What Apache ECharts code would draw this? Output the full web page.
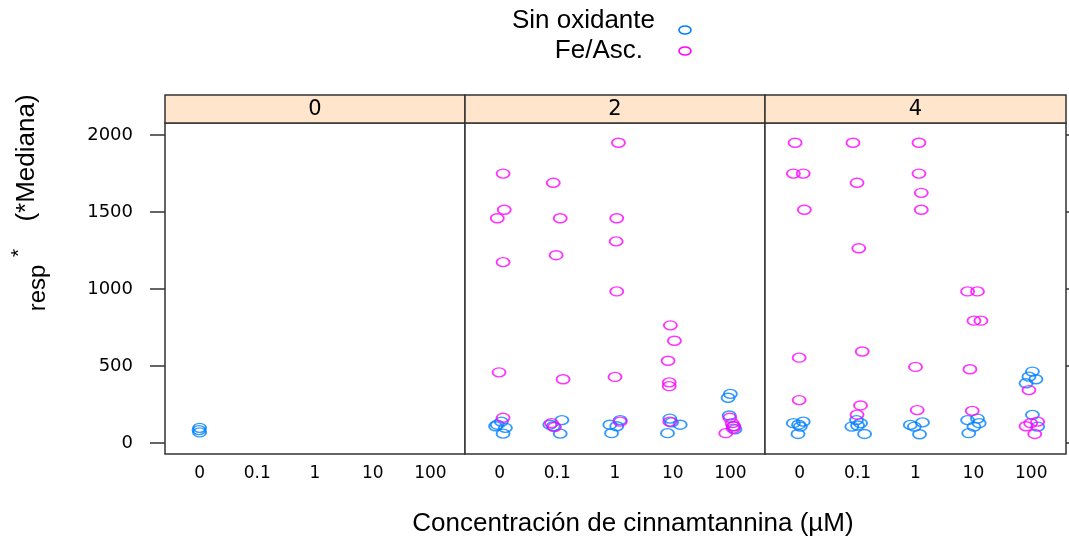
<!DOCTYPE html>
<html>
<head>
<meta charset="utf-8">
<script src="https://cdn.jsdelivr.net/npm/echarts@6/dist/echarts.min.js"></script>
<style>
  html, body { margin: 0; padding: 0; background: #fff; }
  #chart { width: 1069px; height: 543px; }
</style>
</head>
<body>
<div id="chart"></div>
<script>
// Concentration levels on each panel's x axis (jittered points use index 1..5)
const concLabels = ['0', '0.1', '1', '10', '100'];
// Oxidant dose of each panel (strip labels)
const doseLabels = ['0', '2', '4'];
const yTicks = [0, 500, 1000, 1500, 2000];
const seriesNames = ['Sin oxidante', 'Fe/Asc.'];

// Dose 0
const sinOx0 = [[1.00, 100], [0.99, 85], [1.00, 70]];
const feAsc0 = [];

// Dose 2
const sinOx2 = [
  [0.96, 120], [1.03, 140], [1.10, 100], [1.06, 62], [0.93, 110],
  [2.08, 150], [1.87, 120], [2.05, 62], [1.93, 110],
  [2.91, 120], [3.09, 150], [2.94, 65], [3.03, 110],
  [3.95, 160], [4.13, 120], [3.91, 65], [3.98, 135],
  [5.00, 320], [4.96, 295], [4.98, 180], [5.05, 110], [5.08, 90]
];
const feAsc2 = [
  [1.06, 1750], [1.08, 1515], [0.96, 1460], [1.06, 1175], [0.99, 460], [1.06, 165],
  [1.93, 1690], [2.05, 1460], [1.98, 1220], [2.10, 415], [1.90, 130], [1.95, 105],
  [3.06, 1950], [3.03, 1460], [3.02, 1310], [3.03, 985], [3.00, 430], [3.09, 140],
  [3.96, 765], [4.03, 665], [3.92, 535], [3.94, 395], [3.94, 370], [3.95, 140],
  [4.99, 165], [5.03, 130], [5.05, 95], [4.92, 65], [5.06, 110]
];

// Dose 4
const sinOx4 = [
  [0.89, 130], [0.98, 120], [1.06, 140], [0.97, 60], [1.01, 108],
  [1.90, 108], [2.05, 130], [2.12, 60], [2.00, 115], [1.98, 150],
  [2.91, 119], [3.12, 135], [3.07, 58], [2.98, 108],
  [3.90, 150], [4.07, 160], [3.92, 65], [4.01, 108], [4.10, 130],
  [5.02, 465], [4.96, 432], [5.08, 415], [4.91, 389], [5.02, 184], [5.11, 108]
];
const feAsc4 = [
  [0.92, 1950], [0.89, 1750], [1.06, 1750], [1.08, 1515], [0.99, 555], [0.99, 280],
  [1.92, 1950], [1.99, 1690], [2.02, 1265], [2.08, 595], [2.05, 245], [1.99, 185],
  [3.06, 1950], [3.06, 1750], [3.10, 1625], [3.10, 1515], [3.00, 495], [3.03, 215],
  [3.90, 985], [4.07, 985], [4.01, 795], [4.13, 795], [3.94, 480], [3.98, 210],
  [4.96, 345], [4.91, 110], [4.99, 130], [5.11, 140], [5.06, 60]
];

const panelData = [[sinOx0, feAsc0], [sinOx2, feAsc2], [sinOx4, feAsc4]];

const BLUE = '#0080ff';
const MAGENTA = '#ff00ff';
const colors = [BLUE, MAGENTA];
const FRAME = '#333333';
const TICK_FONT = 'DejaVu Sans';

// Panel layout
const panelLeft = [165, 465, 765];
const panelWidth = [300, 300, 301];
const plotTop = 123;
const plotHeight = 331;
const stripTop = 95;
const stripHeight = 28;

const grids = panelLeft.map((l, i) => ({
  left: l, top: plotTop, width: panelWidth[i], height: plotHeight,
  show: true, borderColor: FRAME, borderWidth: 1.5, backgroundColor: '#fff'
}));

const xAxes = panelLeft.map((_, i) => ({
  type: 'value', gridIndex: i, min: 0.4, max: 5.6,
  axisLine: { show: false }, axisTick: { show: false }, splitLine: { show: false },
  axisLabel: {
    customValues: [1, 2, 3, 4, 5],
    formatter: v => concLabels[Math.round(v) - 1],
    fontFamily: TICK_FONT, fontSize: 17, color: '#000', margin: 11
  }
}));

const yAxes = panelLeft.map((_, i) => ({
  type: 'value', gridIndex: i, min: -70, max: 2078,
  axisLine: { show: false }, splitLine: { show: false },
  axisTick: i === 0
    ? { show: true, customValues: yTicks, length: 15, lineStyle: { color: FRAME, width: 1.5 } }
    : { show: false },
  axisLabel: i === 0
    ? { show: true, customValues: yTicks, formatter: v => String(v),
        fontFamily: TICK_FONT, fontSize: 18, color: '#000', margin: 32 }
    : { show: false }
}));
// Right-hand tick marks on the last panel
yAxes.push({
  type: 'value', gridIndex: 2, position: 'right', min: -70, max: 2078,
  axisLine: { show: false }, splitLine: { show: false },
  axisTick: { show: true, customValues: yTicks, length: 5, lineStyle: { color: FRAME, width: 1.5 } },
  axisLabel: { show: false }
});

const series = [];
panelData.forEach((pair, p) => {
  pair.forEach((pts, s) => {
    series.push({
      name: seriesNames[s], type: 'scatter', xAxisIndex: p, yAxisIndex: p,
      data: pts, symbol: 'circle', symbolSize: [13, 9],
      itemStyle: { color: 'rgba(0,0,0,0)', borderColor: colors[s], borderWidth: 1.6 },
      emphasis: { disabled: true }, silent: true
    });
  });
});

// Strips, legend key and axis titles
const graphics = [];
panelLeft.forEach((l, i) => {
  graphics.push({
    type: 'rect', shape: { x: l, y: stripTop, width: panelWidth[i], height: stripHeight },
    style: { fill: '#ffe5cc', stroke: FRAME, lineWidth: 1.5 }, z: 10
  });
  graphics.push({
    type: 'text', x: l + panelWidth[i] / 2, y: stripTop + stripHeight / 2 + 1, z: 11,
    style: { text: doseLabels[i], font: '21px "DejaVu Sans"', fill: '#000',
             align: 'center', verticalAlign: 'middle' }
  });
});

const TITLE_FONT = '26px "Liberation Sans"';
graphics.push(
  { type: 'text', x: 655, y: 21, style: { text: seriesNames[0], font: TITLE_FONT,
    fill: '#000', align: 'right', verticalAlign: 'middle' } },
  { type: 'ellipse', shape: { cx: 685, cy: 30, rx: 6, ry: 4 },
    style: { fill: 'none', stroke: BLUE, lineWidth: 1.6 } },
  { type: 'text', x: 643, y: 51, style: { text: seriesNames[1], font: TITLE_FONT,
    fill: '#000', align: 'right', verticalAlign: 'middle' } },
  { type: 'ellipse', shape: { cx: 685, cy: 51, rx: 6, ry: 4 },
    style: { fill: 'none', stroke: MAGENTA, lineWidth: 1.6 } },
  // x axis title
  { type: 'text', x: 633, y: 524, style: { text: 'Concentración de cinnamtannina (µM)',
    font: TITLE_FONT, fill: '#000', align: 'center', verticalAlign: 'middle' } },
  // y axis title: resp^* (*Mediana)
  { type: 'text', x: 38, y: 288, rotation: Math.PI / 2, style: { text: 'resp',
    font: '24px "Liberation Sans"', fill: '#000', align: 'center', verticalAlign: 'middle' } },
  { type: 'text', x: 19, y: 253, rotation: Math.PI / 2, style: { text: '*',
    font: '21px "Liberation Sans"', fill: '#000', align: 'center', verticalAlign: 'middle' } },
  { type: 'text', x: 27, y: 158, rotation: Math.PI / 2, style: { text: '(*Mediana)',
    font: TITLE_FONT, fill: '#000', align: 'center', verticalAlign: 'middle' } }
);

const chart = echarts.init(document.getElementById('chart'), null, { renderer: 'canvas' });
chart.setOption({
  animation: false,
  backgroundColor: '#fff',
  grid: grids,
  xAxis: xAxes,
  yAxis: yAxes,
  series: series,
  graphic: graphics
});
</script>
</body>
</html>
